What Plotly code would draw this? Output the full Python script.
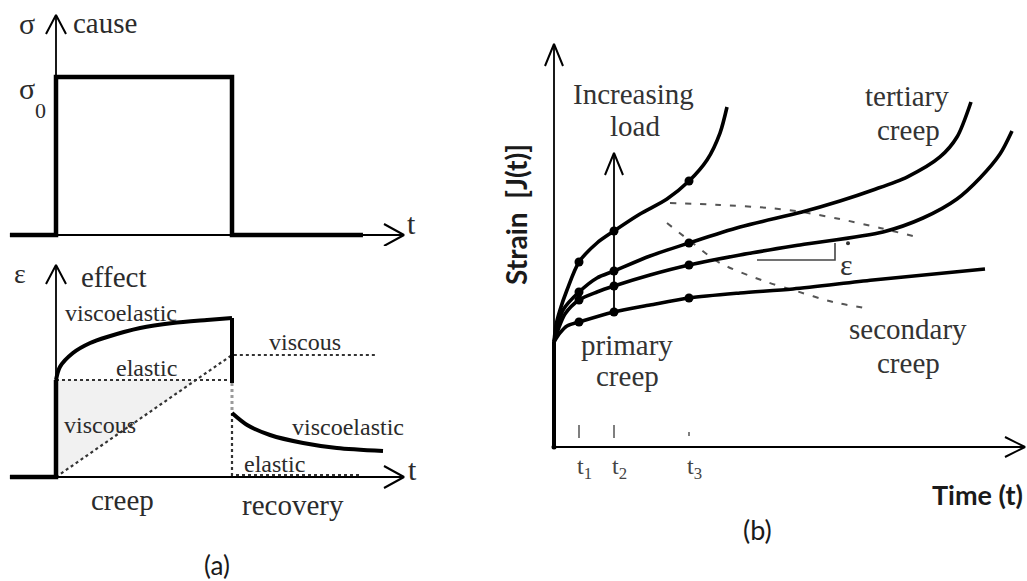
import plotly.graph_objects as go

W, H = 1027, 581

# ---------------- DATA ----------------
# Panel (a) top : cause (stress pulse)
cause_t = [-1.31, 0, 0, 5, 5, 8.72]
cause_sigma = [0, 0, 1, 1, 0, 0]

# Panel (a) bottom : effect (strain response)
jump_t = [-1.31, 0, 0]
jump_eps = [0, 0, 0.97]
creep_t = [0, 0.11, 0.48, 0.97, 1.45, 2.39, 3.32, 4.29, 5.0]
creep_eps = [0.97, 1.10, 1.24, 1.34, 1.40, 1.49, 1.54, 1.57, 1.59]
drop_t = [5.0, 5.0]
drop_eps = [1.59, 0.94]
gap_t = [5.0, 5.0]
gap_eps = [0.94, 0.66]
recov_t = [5.0, 5.43, 6.08, 7.02, 7.98, 9.29]
recov_eps = [0.64, 0.52, 0.42, 0.34, 0.29, 0.26]
elastic_creep_t = [0, 4.86]
elastic_creep_eps = [0.97, 0.97]
viscous_t = [0, 5.0, 9.12]
viscous_eps = [0, 1.22, 1.22]
elastic_rec_t = [5.0, 5.0, 8.64]
elastic_rec_eps = [0.64, 0.02, 0.02]
shade_t = [0, 0, 3.98, 0]
shade_eps = [0, 0.97, 0.97, 0]

# Panel (b) : creep curves for increasing load
c1_t = [0, 0.08, 0.24, 0.52, 1.0, 1.72, 2.4, 3.44, 4.52, 5.4, 6.12, 6.64, 6.92]
c1_J = [1.0, 1.162, 1.305, 1.495, 1.762, 1.943, 2.057, 2.219, 2.362, 2.533, 2.733, 2.990, 3.238]
c2_t = [0, 0.12, 0.36, 1.0, 1.72, 2.4, 3.84, 5.4, 7.44, 9.92, 11.44, 12.76, 14.12, 15.44, 16.12, 16.68]
c2_J = [1.0, 1.133, 1.305, 1.476, 1.610, 1.676, 1.819, 1.943, 2.095, 2.238, 2.343, 2.448, 2.571, 2.762, 2.952, 3.286]
c3_t = [0, 0.16, 0.44, 1.0, 1.72, 2.4, 3.84, 5.4, 7.44, 9.84, 13.16, 14.76, 16.12, 17.04, 17.84, 18.32]
c3_J = [1.0, 1.114, 1.267, 1.400, 1.476, 1.533, 1.638, 1.733, 1.829, 1.924, 2.048, 2.181, 2.362, 2.562, 2.790, 3.010]
c4_t = [0, 0.24, 0.52, 1.0, 2.4, 3.84, 5.4, 7.44, 9.56, 12.76, 17.24]
c4_J = [1.0, 1.086, 1.152, 1.190, 1.286, 1.352, 1.419, 1.467, 1.505, 1.590, 1.695]
dot_t = [1.0, 2.4, 5.4]
c1_dots = [1.762, 2.057, 2.533]
c2_dots = [1.476, 1.676, 1.943]
c3_dots = [1.400, 1.533, 1.733]
c4_dots = [1.190, 1.286, 1.419]
tert_t = [4.64, 6.64, 8.64, 9.92, 11.44, 13.04, 14.52]
tert_J = [2.324, 2.305, 2.276, 2.238, 2.171, 2.086, 2.0]
sec_t = [4.52, 5.44, 6.64, 8.52, 9.56, 11.16, 12.44]
sec_J = [2.133, 1.962, 1.752, 1.571, 1.495, 1.381, 1.324]
slope_t = [8.12, 11.24, 11.24]
slope_J = [1.781, 1.781, 1.943]
load_arrow_t = [2.4, 2.4]
load_arrow_J = [1.286, 2.80]
tick_t = [1.0, 2.4, 5.4]
tick_labels = ["t<sub>1</sub>", "t<sub>2</sub>", "t<sub>3</sub>"]
rate_label_t, rate_label_J = 11.68, 1.74

# ---------------- LAYOUT GEOMETRY ----------------
# box = (left, right, top, bottom) in px ; x0/y0 = px of data zero ; sx/sy = px per unit
PANELS = {
    "A1": dict(box=(0, 440, 0, 246), x0=56, sx=35.2, y0=235, sy=158, ax=("x", "y"), n=""),
    "A2": dict(box=(0, 440, 248, 581), x0=56, sx=35.2, y0=477, sy=100, ax=("x2", "y2"), n="2"),
    "B": dict(box=(490, 1027, 20, 581), x0=554, sx=25, y0=447, sy=105, ax=("x3", "y3"), n="3"),
}

fig = go.Figure()
SERIF = "Liberation Serif"
SANS = "Lato"
TXT = "#2b2b2b"


def line(p, x, y, width=2, color="black", dash="solid", shape="linear", fill=None, fillcolor=None):
    P = PANELS[p]
    fig.add_trace(go.Scatter(
        x=x, y=y, mode="lines", xaxis=P["ax"][0], yaxis=P["ax"][1],
        line=dict(width=width, color=color, dash=dash, shape=shape, smoothing=0.8 if shape == "spline" else None),
        fill=fill, fillcolor=fillcolor, hoverinfo="skip", showlegend=False))


def dots(p, x, y, size=8, color="black"):
    P = PANELS[p]
    fig.add_trace(go.Scatter(
        x=x, y=y, mode="markers", xaxis=P["ax"][0], yaxis=P["ax"][1],
        marker=dict(size=size, color=color), hoverinfo="skip", showlegend=False))


def chevron(p, tx, ty, direction, L=20, Wd=10, width=2):
    P = PANELS[p]
    lx, wy = L / P["sx"], Wd / P["sy"]
    ly, wx = L / P["sy"], Wd / P["sx"]
    if direction == "right":
        line(p, [tx - lx, tx, tx - lx], [ty + wy, ty, ty - wy], width=width)
    else:
        line(p, [tx - wx, tx, tx + wx], [ty - ly, ty, ty - ly], width=width)


def text(p, x, y, s, size=24, family=SERIF, color=TXT, angle=0, bold=False, xanchor="center"):
    P = PANELS[p]
    fig.add_annotation(x=x, y=y, xref=P["ax"][0], yref=P["ax"][1], text=("<b>%s</b>" % s) if bold else s,
                       showarrow=False, xanchor=xanchor, yanchor="middle", textangle=angle,
                       font=dict(family=family, size=size, color=color))


# ---------- Panel A1 : cause ----------
a1_tip_x = (404 - 56) / 35.2
a1_tip_y = (235 - 15) / 158
line("A1", [0, a1_tip_x], [0, 0], width=1.8)
line("A1", [0, 0], [0, a1_tip_y], width=1.8)
chevron("A1", a1_tip_x, 0, "right", L=20, Wd=11)
chevron("A1", 0, a1_tip_y, "up", L=19, Wd=10)
line("A1", cause_t, cause_sigma, width=4.5)
text("A1", -0.82, 1.34, "σ", size=30)
text("A1", 1.39, 1.34, "cause", size=29)
text("A1", -0.82, 0.93, "σ", size=30)
text("A1", -0.45, 0.79, "0", size=22)
text("A1", 10.11, 0.07, "t", size=30)

# ---------- Panel A2 : effect ----------
a2_tip_x = (404 - 56) / 35.2
a2_tip_y = (477 - 265) / 100
line("A2", shade_t, shade_eps, width=0, color="rgba(0,0,0,0)", fill="toself", fillcolor="#f1f1f1")
line("A2", elastic_creep_t, elastic_creep_eps, width=2.2, color="#333", dash="dot")
line("A2", viscous_t, viscous_eps, width=2.2, color="#333", dash="dot")
line("A2", elastic_rec_t, elastic_rec_eps, width=2.2, color="#333", dash="dot")
line("A2", [0, a2_tip_x], [0, 0], width=1.8)
line("A2", [0, 0], [0, a2_tip_y], width=1.8)
chevron("A2", a2_tip_x, 0, "right", L=20, Wd=11)
chevron("A2", 0, a2_tip_y, "up", L=19, Wd=10)
line("A2", jump_t, jump_eps, width=4.5)
line("A2", creep_t, creep_eps, width=4, shape="spline")
line("A2", drop_t, drop_eps, width=4)
line("A2", gap_t, gap_eps, width=3, color="#9a9a9a", dash="dot")
line("A2", recov_t, recov_eps, width=4, shape="spline")
text("A2", -1.02, 2.04, "ε", size=28)
text("A2", 1.62, 2.0, "effect", size=29)
text("A2", 1.85, 1.64, "viscoelastic", size=24)
text("A2", 2.56, 1.09, "elastic", size=24)
text("A2", 1.25, 0.52, "viscous", size=24)
text("A2", 7.07, 1.35, "viscous", size=24)
text("A2", 8.30, 0.50, "viscoelastic", size=24)
text("A2", 6.22, 0.13, "elastic", size=24)
text("A2", 10.14, 0.08, "t", size=30)
text("A2", 1.90, -0.23, "creep", size=29)
text("A2", 6.73, -0.28, "recovery", size=29)
text("A2", 4.57, -0.88, "(a)", size=26, family=SANS, color="#1a1a1a")

# ---------- Panel B : creep curves ----------
b_tip_x = (1025 - 554) / 25
b_tip_y = (447 - 44) / 105
line("B", tert_t, tert_J, width=2, color="#555", dash="6px,9px", shape="spline")
line("B", sec_t, sec_J, width=2, color="#555", dash="6px,9px", shape="spline")
line("B", [0, b_tip_x], [0, 0], width=2)
line("B", [0, 0], [0, b_tip_y], width=1.8)
line("B", [0, 0], [0, 1.0], width=4)
chevron("B", b_tip_x, 0, "right", L=20, Wd=10)
chevron("B", 0, b_tip_y, "up", L=22, Wd=9)
line("B", load_arrow_t, load_arrow_J, width=1.8)
chevron("B", load_arrow_t[1], load_arrow_J[1], "up", L=22, Wd=9)
line("B", slope_t, slope_J, width=1.6, color="#444")
for ct, cj in [(c1_t, c1_J), (c2_t, c2_J), (c3_t, c3_J), (c4_t, c4_J)]:
    line("B", ct, cj, width=3.6, shape="spline")
for cd in [c1_dots, c2_dots, c3_dots, c4_dots]:
    dots("B", dot_t, cd, size=9)
dots("B", [0], [0], size=5)
for tt in tick_t[:2]:
    line("B", [tt, tt], [0.086, 0.21], width=1.5, color="#555")
line("B", [tick_t[2], tick_t[2]], [0.105, 0.143], width=1.5, color="#555")
for tt, lab in zip(tick_t, tick_labels):
    text("B", tt + 0.22, -0.2, lab, size=24, color="#444")
text("B", 3.16, 3.36, "Increasing", size=29, color="#333")
text("B", 3.24, 3.06, "load", size=29, color="#333")
text("B", 14.12, 3.34, "tertiary", size=29, color="#333")
text("B", 14.16, 3.02, "creep", size=29, color="#333")
text("B", 14.16, 1.12, "secondary", size=29, color="#333")
text("B", 14.16, 0.80, "creep", size=29, color="#333")
text("B", 2.92, 0.975, "primary", size=29, color="#333")
text("B", 2.92, 0.68, "creep", size=29, color="#333")
text("B", rate_label_t, rate_label_J, "ε", size=30, color="#333")
dots("B", [rate_label_t + 0.08], [rate_label_J + 0.2], size=4, color="#333")
text("B", -1.52, 2.21, "Strain  [J(t)]", size=28, family=SANS, color="#1a1a1a", angle=-90, bold=True)
text("B", 18.85, -0.457, "Time (t)", size=27, family=SANS, color="#1a1a1a", bold=True, xanchor="right")
text("B", 8.12, -0.79, "(b)", size=27, family=SANS, color="#1a1a1a")

# ---------------- AXES ----------------
layout_axes = {}
for key, P in PANELS.items():
    l, r, t, b = P["box"]
    n = P["n"]
    layout_axes["xaxis" + n] = dict(domain=[l / W, r / W],
                                    range=[(l - P["x0"]) / P["sx"], (r - P["x0"]) / P["sx"]],
                                    visible=False, fixedrange=True, anchor="y" + n)
    layout_axes["yaxis" + n] = dict(domain=[1 - b / H, 1 - t / H],
                                    range=[(P["y0"] - b) / P["sy"], (P["y0"] - t) / P["sy"]],
                                    visible=False, fixedrange=True, anchor="x" + n)

fig.update_layout(
    width=W, height=H, margin=dict(l=0, r=0, t=0, b=0),
    paper_bgcolor="white", plot_bgcolor="rgba(0,0,0,0)", showlegend=False,
    **layout_axes)

fig.write_html("out.html", config={"displayModeBar": False},
               post_script="document.body.style.margin='0px';document.body.style.overflow='hidden';")
